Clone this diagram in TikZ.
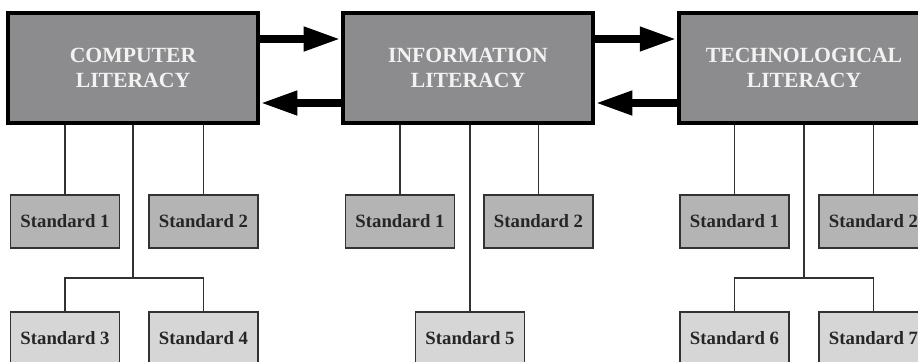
\documentclass[tikz,border=0pt]{standalone}
\usepackage{fontspec}
\setmainfont{Liberation Serif}
\usetikzlibrary{arrows.meta}
\definecolor{boxgray}{RGB}{140,140,142}
\definecolor{stdgray}{RGB}{180,180,180}
\definecolor{stdlight}{RGB}{214,214,214}
\definecolor{linegray}{RGB}{50,50,50}
\definecolor{boxtext}{RGB}{242,242,242}
\begin{document}
\begin{tikzpicture}[x=.03cm,y=-.03cm,
  litbox/.style={rectangle,draw=black,line width=3pt,fill=boxgray,text=boxtext,
    minimum width=7.5cm,minimum height=3.3cm,align=center,
    font=\fontsize{18.5}{21.5}\selectfont\bfseries},
  stdbox/.style={rectangle,draw=linegray,line width=1.4pt,fill=stdgray,text=black!85,
    minimum width=3.27cm,minimum height=1.59cm,font=\fontsize{16}{19}\selectfont\bfseries},
  stdboxlight/.style={stdbox,fill=stdlight},
  link/.style={draw=linegray,line width=1.2pt},
  flow/.style={line width=7.5pt,-{Triangle[length=32pt,width=19pt]}}]
\clip (0,0) rectangle (918,362);
\useasboundingbox (0,0) rectangle (918,362);

\node[litbox] (cl) at (133,68){COMPUTER\\LITERACY};
\node[litbox] (il) at (468,68){INFORMATION\\LITERACY};
\node[litbox] (tl) at (804,68){TECHNOLOGICAL\\LITERACY};

\node[stdbox] (c1) at (65,221.5){Standard 1};
\node[stdbox] (c2) at (203.5,221.5){Standard 2};
\node[stdboxlight] (c3) at (65,338.5){Standard 3};
\node[stdboxlight] (c4) at (203.5,338.5){Standard 4};

\node[stdbox] (i1) at (400,221.5){Standard 1};
\node[stdbox] (i2) at (538.5,221.5){Standard 2};
\node[stdboxlight] (i5) at (470,338.5){Standard 5};

\node[stdbox] (t1) at (734.5,221.5){Standard 1};
\node[stdbox] (t2) at (873.5,221.5){Standard 2};
\node[stdboxlight] (t6) at (734.5,338.5){Standard 6};
\node[stdboxlight] (t7) at (873.5,338.5){Standard 7};

\coordinate (cb) at (133,278);
\coordinate (tb) at (804,278);

\draw[flow] ([yshift=.87cm]cl.east) -- ([yshift=.87cm]il.west);
\draw[flow] ([yshift=-1.05cm]il.west) -- ([yshift=-1.05cm]cl.east);
\draw[flow] ([yshift=.87cm]il.east) -- ([yshift=.87cm]tl.west);
\draw[flow] ([yshift=-1.05cm]tl.west) -- ([yshift=-1.05cm]il.east);

\path[link] (c1.north) -- (c1.north |- cl.south);
\path[link] (c2.north) -- (c2.north |- cl.south);
\path[link] (cl.south) -- (cb);
\path[link] (c3.north) |- (cb) -| (c4.north);

\path[link] (i1.north) -- (i1.north |- il.south);
\path[link] (i2.north) -- (i2.north |- il.south);
\path[link] (i5.north) -- (i5.north |- il.south);

\path[link] (t1.north) -- (t1.north |- tl.south);
\path[link] (t2.north) -- (t2.north |- tl.south);
\path[link] (tl.south) -- (tb);
\path[link] (t6.north) |- (tb) -| (t7.north);

\end{tikzpicture}
\end{document}
